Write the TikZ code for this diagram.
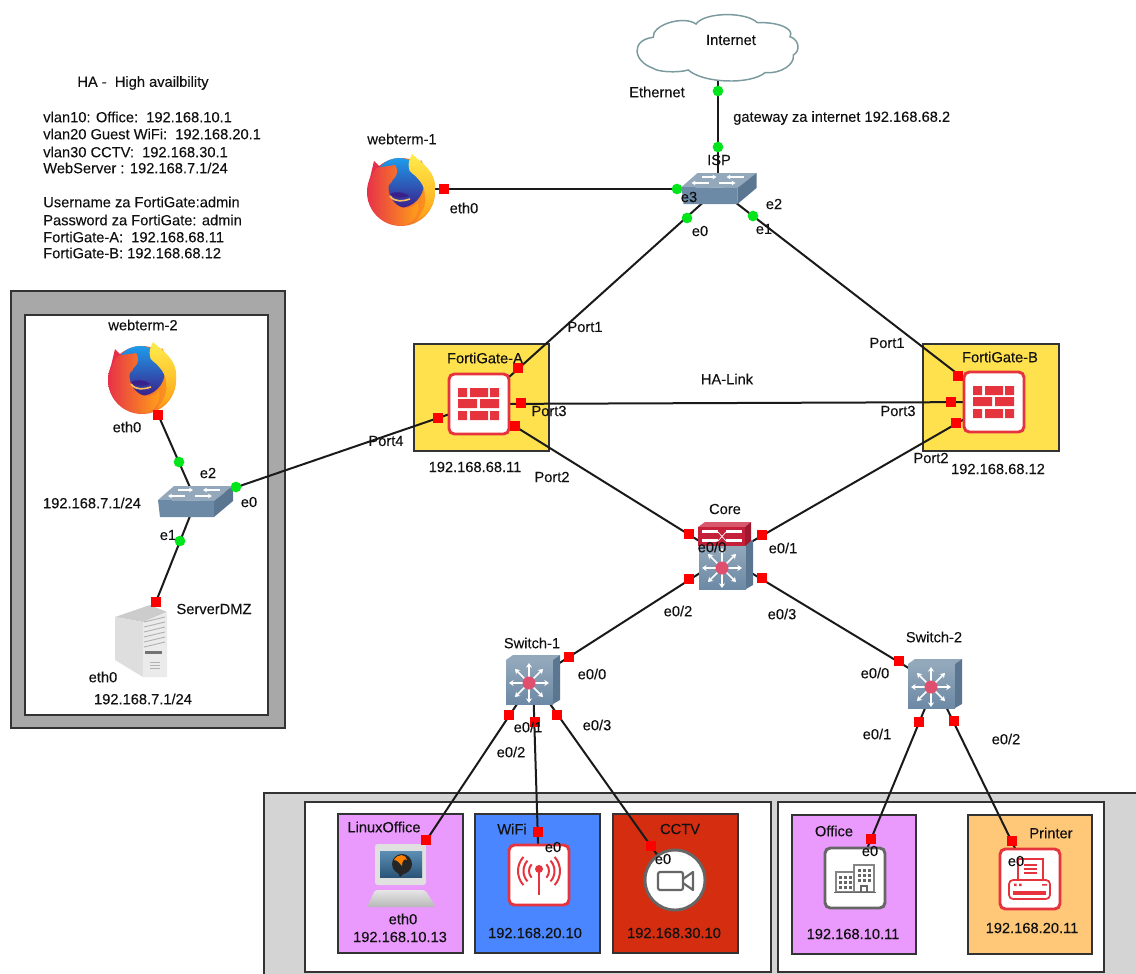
\documentclass[tikz,border=0pt]{standalone}
\usepackage{fontspec}
\setmainfont{Liberation Sans}
\newfontfamily\lblfont{Liberation Sans}[FakeBold=0.15]
\usetikzlibrary{arrows.meta}
\definecolor{frame}{HTML}{333333}
\definecolor{wire}{HTML}{1A1A1A}
\definecolor{txt}{HTML}{111111}
\definecolor{redport}{HTML}{FF0000}
\definecolor{greenport}{HTML}{00E61A}
\definecolor{iconred}{HTML}{E5343D}
\definecolor{icongray}{HTML}{666666}
\definecolor{swtop}{HTML}{93A8BB}
\definecolor{swfront}{HTML}{6C89A5}
\definecolor{swside}{HTML}{5A7690}
\definecolor{LOf}{HTML}{E99AFC}
\definecolor{WFi}{HTML}{4A86FF}
\definecolor{CTv}{HTML}{D42D10}
\definecolor{PRt}{HTML}{FFC878}
\definecolor{FGy}{HTML}{FFE04D}
\definecolor{CLd}{HTML}{7A9A9E}
\definecolor{E1}{HTML}{E62E4A}
\definecolor{E2}{HTML}{FFA516}
\definecolor{E3}{HTML}{FF8A1C}
\definecolor{B1}{HTML}{1E9CEB}
\definecolor{B2}{HTML}{3B1F8A}
\definecolor{Y1}{HTML}{FFEE4E}
\definecolor{Y2}{HTML}{FF9F14}
\definecolor{HTML3}{HTML}{E0506E}
\definecolor{RT}{HTML}{D9576A}
\definecolor{RF}{HTML}{C4203A}
\definecolor{RS}{HTML}{A01830}
\definecolor{LB1}{HTML}{5C8FB5}
\definecolor{LB2}{HTML}{2B5478}
\tikzset{
  frameline/.style={draw=frame,line width=1.4pt},
  wirelink/.style={draw=wire,line width=1.5pt},
  lbl/.style={text=txt,inner sep=0pt,font=\lblfont\fontsize{11}{13}\selectfont},
  redp/.style={fill=redport,minimum size=8.2pt,inner sep=0pt,rectangle},
  grnp/.style={fill=greenport,minimum size=8pt,inner sep=0pt,circle},
  dev/.style={inner sep=0pt,minimum width=#1*0.75pt,minimum height=#1*0.75pt},
  pics/firefox/.style={code={
    \shade[left color=E1,right color=E2] (0,2) circle[radius=34];
    \fill[E1] (-27,-29) -- (-18,-20) -- (-32,-8) -- cycle;
    \fill[E3] (20,-30) -- (28,-16) -- (14,-20) -- cycle;
    \shade[top color=B1,bottom color=B2] (-2,-7) circle[radius=25];
    \shade[left color=E1,right color=E3!80!yellow] (-24,-22) .. controls (-16,-24) and (-10,-24) .. (-6,-25)
       .. controls (-3,-21) and (-4,-17) .. (-5,-14) .. controls (-7,-11) and (-10,-9) .. (-9,-8)
       .. controls (-13,-6) and (-13,-2) .. (-12,2) .. controls (-11,10) and (-3,18) .. (5,18)
       .. controls (10,18) and (14,16) .. (17,12) .. controls (19,22) and (14,32) .. (4,35)
       .. controls (-14,38) and (-36,22) .. (-33,0) .. controls (-32,-10) and (-28,-18) .. cycle;
    \fill[B2] (-11,4) .. controls (-6,1) and (4,2) .. (8,6) .. controls (4,8) and (-2,8) .. (-8,7) -- cycle;
    \draw[E2!70!white,line width=1.2pt] (-11,6) .. controls (-6,13) and (3,11) .. (9,9);
    \shade[top color=Y1,bottom color=Y2] (11,-36) .. controls (22,-26) and (35,-18) .. (34,-2)
       .. controls (35,12) and (28,24) .. (16,30) .. controls (23,20) and (26,12) .. (24,5)
       .. controls (24,-2) and (20,-8) .. (18,-10) .. controls (14,-16) and (7,-18) .. (8,-22)
       .. controls (7,-26) and (8,-30) .. cycle;
  }},
  pics/lswitch/.style={code={
    \fill[swtop] (-38,-1) -- (-22,-15) -- (37,-15) -- (18,0) -- cycle;
    \fill[swfront] (-38,-1) -- (18,0) -- (18,16) -- (-36,16) -- cycle;
    \fill[swside] (18,0) -- (37,-15) -- (37,0) -- (18,16) -- cycle;
    \draw[white,line width=1pt,-{Stealth[length=3pt,width=3.5pt]}] (-18,-11) -- (-3,-11);
    \draw[white,line width=1pt,-{Stealth[length=3pt,width=3.5pt]}] (24,-11) -- (7,-11);
    \draw[white,line width=1pt,-{Stealth[length=3pt,width=3.5pt]}] (-11,-5) -- (-28,-5);
    \draw[white,line width=1pt,-{Stealth[length=3pt,width=3.5pt]}] (-1,-5) -- (16,-5);
  }},
  pics/lthree/.style={code={
    \fill[swtop] (-27,-20) -- (-20,-25) -- (27,-25) -- (20,-20) -- cycle;
    \shade[top color=swtop,bottom color=swfront] (-27,-20) rectangle (20,24);
    \fill[swside] (20,-20) -- (27,-25) -- (27,20) -- (20,24) -- cycle;
    \foreach \bx/\by in {20/0,14/14,0/20,-14/14,-20/0,-14/-14,0/-20,14/-14}{
      \draw[white,line width=1.3pt,-{Stealth[length=3.5pt,width=4.5pt]}] (-4,3) -- ++(\bx,\by);}
    \fill[HTML3] (-4,3) circle[radius=6.5];
  }},
  pics/router/.style={code={
    \fill[RT] (-27,-5) -- (-20,-10) -- (26,-10) -- (20,-5) -- cycle;
    \fill[RF] (-27,-5) rectangle (20,14);
    \fill[RS] (20,-5) -- (26,-10) -- (26,9) -- (20,14) -- cycle;
    \fill[white] (-23,-2) rectangle (-7,1); \fill[white] (1,-2) rectangle (17,1);
    \fill[white] (-23,7) rectangle (-7,10); \fill[white] (1,7) rectangle (17,10);
    \draw[white,line width=.5pt] (-7,0) -- (1,9) (-7,9) -- (1,0);
  }},
  pics/firewall/.style={code={
    \draw[iconred,fill=white,line width=2.2pt,rounded corners=4pt] (-30,-30) rectangle (30,30);
    \fill[iconred] (-21,-16) rectangle (-12,-7) (-9,-16) rectangle (9,-7) (11,-16) rectangle (20,-7)
      (-21,-5) rectangle (-2,4) (1,-5) rectangle (20,4)
      (-21,7) rectangle (-12,16) (-9,7) rectangle (9,16) (11,7) rectangle (20,16);
  }},
  pics/wifi/.style={code={
    \draw[iconred,fill=white,line width=2.2pt,rounded corners=4pt] (-30,-30) rectangle (30,30);
    \draw[iconred,line width=1.7pt] (0,-4) -- (0,20);
    \fill[iconred] (0,-6) circle[radius=4];
    \foreach \r in {10,15.5,21}{
      \draw[iconred,line width=1.5pt] (0,-4) ++(-42:\r) arc[start angle=-42,end angle=42,radius=\r];
      \draw[iconred,line width=1.5pt] (0,-4) ++(138:\r) arc[start angle=138,end angle=222,radius=\r];}
  }},
  pics/camera/.style={code={
    \draw[icongray,fill=white,line width=2.2pt] (0,0) circle[radius=30];
    \draw[icongray,line width=1.6pt,rounded corners=1.5pt] (-17,-8) rectangle (8,10);
    \draw[icongray,line width=1.6pt,line join=round] (8,-1) -- (18,-8) -- (18,10) -- (8,3);
  }},
  pics/building/.style={code={
    \draw[icongray,fill=white,line width=2.2pt,rounded corners=4pt] (-30,-30) rectangle (30,30);
    \draw[icongray!80,fill=white,line width=.8pt] (-19,-6) rectangle (-1,14);
    \draw[icongray!80,fill=white,line width=.8pt] (-1,-13) rectangle (19,14);
    \foreach \x in {-16,-11,-6}{\foreach \y in {-2,3,8}{\fill[icongray] (\x,\y) rectangle ++(2.6,2.6);}}
    \foreach \x in {3,8,13}{\foreach \y in {-9,-4,1}{\fill[icongray] (\x,\y) rectangle ++(2.6,2.6);}}
    \draw[icongray,line width=1pt] (6,14) -- (6,8) -- (12,8) -- (12,14);
    \draw[icongray,line width=1.1pt] (-21,14.5) -- (21,14.5);
  }},
  pics/printericon/.style={code={
    \draw[iconred,fill=white,line width=2.2pt,rounded corners=4pt] (-30,-30) rectangle (30,30);
    \draw[iconred,line width=1.3pt] (-12,0) -- (-12,-20) -- (13,-20) -- (13,0);
    \foreach \y in {-14,-10,-6}{\draw[iconred,line width=.9pt] (-6,\y) -- (7,\y);}
    \draw[iconred,line width=1.3pt,rounded corners=3pt] (-21,1) rectangle (20,20);
    \fill[iconred] (-16,4.5) rectangle (-13.5,7) (-11,4.5) rectangle (-8.5,7) (12,5) rectangle (17,6.5);
    \fill[iconred] (-17,12) rectangle (16,16);
  }},
  pics/laptop/.style={code={
    \fill[black!12,rounded corners=2pt] (-25,-36) rectangle (26,5);
    \shade[top color=LB1,bottom color=LB2] (-20,-29) rectangle (22,-3);
    \fill[black!85] (2,-16) circle[radius=10];
    \fill[black!85] (-3,-9) -- (0,-3) -- (6,-8) -- cycle;
    \fill[orange] (-6,-20) .. controls (-2,-27) and (6,-26) .. (7,-20) .. controls (4,-22) and (2,-19) .. (2,-14) .. controls (0,-16) and (-2,-20) .. cycle;
    \shade[top color=black!10,bottom color=black!28,rounded corners=2pt] (-25,10) -- (25,10) -- (36,27) -- (-33,27) -- cycle;
  }},
  pics/serverbox/.style={code={
    \fill[black!20] (-25,-25) -- (10,-37) -- (27,-30) -- (3,-20) -- cycle;
    \fill[black!13] (-25,-25) -- (3,-20) -- (3,35) -- (-25,18) -- cycle;
    \fill[black!8] (3,-20) -- (27,-30) -- (27,35) -- (3,35) -- cycle;
    \foreach \y in {-20,-15,-10,-5,0,5}{\draw[black!30,line width=.7pt] (4,\y) -- (25,\y-5);}
    \fill[black!55] (5,12) rectangle (22,9);
    \foreach \y in {20,23,26}{\draw[black!30,line width=.5pt] (10,\y) -- (20,\y);}
  }},
}
\begin{document}
\begin{tikzpicture}[x=0.75pt,y=-0.75pt]
\useasboundingbox (0,0) rectangle (1136,974);
% containers
\draw[frameline,fill=black!34] (11,291) rectangle (285,728);
\draw[frameline,fill=white] (25,315) rectangle (268,715);
\fill[black!17] (264,793) rectangle (1136,974);
\draw[frameline] (264,974) -- (264,793) -- (1136,793);
\draw[frameline,fill=white] (305,802) rectangle (771,972);
\draw[frameline,fill=white] (778,802) rectangle (1104,972);
\draw[frameline,fill=LOf] (338,814) rectangle (463,953);
\draw[frameline,fill=WFi] (475,814) rectangle (600,953);
\draw[frameline,fill=CTv] (613,814) rectangle (738,953);
\draw[frameline,fill=LOf] (792,815) rectangle (916,954);
\draw[frameline,fill=PRt] (968,815) rectangle (1092,954);
\draw[frameline,fill=FGy] (414,344) rectangle (549,451);
\draw[frameline,fill=FGy] (923,344) rectangle (1059,451);
% device anchors
\node[dev=40] (internet) at (718,47) {};
\node[dev=24] (isp) at (718,189) {};
\node[dev=50,circle] (webone) at (402,189) {};
\node[dev=50,circle] (webtwo) at (142,378) {};
\node[dev=24] (dmzsw) at (196,501) {};
\node[dev=50] (server) at (140,642) {};
\node[dev=50] (fga) at (479,404) {};
\node[dev=50] (fgb) at (994,402) {};
\node[dev=30] (core) at (725,557) {};
\node[dev=30] (swone) at (533,680) {};
\node[dev=30] (swtwo) at (935,684) {};
\node[dev=40] (linux) at (400,880) {};
\node[dev=50] (wifi) at (539,875) {};
\node[dev=50,circle] (cctv) at (675,880) {};
\node[dev=50] (office) at (855,878) {};
\node[dev=50] (printer) at (1030,879) {};
% connectors
\draw[wirelink] (internet) -- (isp);
\draw[wirelink] (webone) -- (isp);
\draw[wirelink] (isp) -- (fga);
\draw[wirelink] (isp) -- (fgb);
\draw[wirelink] (fga) -- (fgb);
\draw[wirelink] (fga) -- (core);
\draw[wirelink] (fgb) -- (core);
\draw[wirelink] (dmzsw) -- (fga);
\draw[wirelink] (webtwo) -- (dmzsw);
\draw[wirelink] (dmzsw) -- (server);
\draw[wirelink] (core) -- (swone);
\draw[wirelink] (core) -- (swtwo);
\draw[wirelink] (swone) -- (linux);
\draw[wirelink] (swone) -- (wifi);
\draw[wirelink] (swone) -- (cctv);
\draw[wirelink] (swtwo) -- (office);
\draw[wirelink] (swtwo) -- (printer);
% cloud
\draw[CLd,line width=1.1pt,fill=white] (653.3,37.3) .. controls (651.7,25) and (683.3,15) .. (696,24)
  .. controls (705,11.7) and (746.7,11.7) .. (757.3,22.7)
  .. controls (776.7,21.7) and (795,28.3) .. (790,36.7)
  .. controls (800,40) and (800,51.7) .. (793.3,55)
  .. controls (795,65) and (780,74) .. (765,72.7)
  .. controls (750,85) and (703,83.3) .. (688.3,70)
  .. controls (676.7,73.3) and (656.7,71.7) .. (653.3,68.3)
  .. controls (633.3,61.7) and (630,40) .. cycle;
% icons
\pic at (401,190) {firefox};
\pic at (webtwo.center) {firefox};
\pic at (719.5,188) {lswitch};
\pic at (196,501) {lswitch};
\pic at (server.center) {serverbox};
\pic at (fga.center) {firewall};
\pic at (fgb.center) {firewall};
\pic at (726,565) {lthree};
\pic at (725,532) {router};
\pic at (swone.center) {lthree};
\pic at (swtwo.center) {lthree};
\pic at (linux.center) {laptop};
\pic at (wifi.center) {wifi};
\pic at (cctv.center) {camera};
\pic at (office.center) {building};
\pic at (printer.center) {printericon};
% ports
\node[grnp] (g1) at (718,91) {};
\node[grnp] (g2) at (718,147) {};
\node[grnp] (g3) at (677,189) {};
\node[grnp] (g4) at (687,218) {};
\node[grnp] (g5) at (753,216) {};
\node[grnp] (g6) at (179,462) {};
\node[grnp] (g7) at (236,487) {};
\node[grnp] (g8) at (180,541) {};
\node[redp] (r1) at (444,189) {};
\node[redp] (r2) at (158,415) {};
\node[redp] (r3) at (156,602) {};
\node[redp] (r4) at (518,368) {};
\node[redp] (r5) at (521,403) {};
\node[redp] (r6) at (515,426) {};
\node[redp] (r7) at (438,418) {};
\node[redp] (r8) at (958,376) {};
\node[redp] (r9) at (951,402) {};
\node[redp] (r10) at (956,423) {};
\node[redp] (r11) at (689,534) {};
\node[redp] (r12) at (762,535) {};
\node[redp] (r13) at (689,579) {};
\node[redp] (r14) at (762,578) {};
\node[redp] (r15) at (569,657) {};
\node[redp] (r16) at (509,715) {};
\node[redp] (r17) at (535,722) {};
\node[redp] (r18) at (557,715) {};
\node[redp] (r19) at (899,661) {};
\node[redp] (r20) at (919,722) {};
\node[redp] (r21) at (954,721) {};
\node[redp] (r22) at (426,840) {};
\node[redp] (r23) at (538,832) {};
\node[redp] (r24) at (651,846) {};
\node[redp] (r25) at (871,839) {};
\node[redp] (r26) at (1012,841) {};
% notes
\node[lbl] (n0) at (143,83) {HA -\ \ High availbility};
\node[lbl,anchor=west] (n1) at (43,117) {vlan10: Office:\ \ 192.168.10.1};
\node[lbl,anchor=west] (n2) at (43,134) {vlan20 Guest WiFi:\ \ 192.168.20.1};
\node[lbl,anchor=west] (n3) at (43,152) {vlan30 CCTV:\ \ 192.168.30.1};
\node[lbl,anchor=west] (n4) at (43,168) {WebServer : 192.168.7.1/24};
\node[lbl,anchor=west] (n5) at (43,202) {Username za FortiGate:admin};
\node[lbl,anchor=west] (n6) at (43,220) {Password za FortiGate: admin};
\node[lbl,anchor=west] (n7) at (43,237) {FortiGate-A:\ \ 192.168.68.11};
\node[lbl,anchor=west] (n8) at (43,253) {FortiGate-B: 192.168.68.12};
% labels
\node[lbl] (t1) at (731,40) {Internet};
\node[lbl] (t2) at (657,92) {Ethernet};
\node[lbl,anchor=west] (t3) at (733,118) {gateway za internet 192.168.68.2};
\node[lbl] (t4) at (402,139) {webterm-1};
\node[lbl] (t5) at (464,208) {eth0};
\node[lbl] (t6) at (719,160) {ISP};
\node[lbl] (t7) at (689,197) {e3};
\node[lbl] (t8) at (774,204) {e2};
\node[lbl] (t9) at (700,231) {e0};
\node[lbl] (t10) at (764,229) {e1};
\node[lbl] (t11) at (585,327) {Port1};
\node[lbl] (t12) at (887,343) {Port1};
\node[lbl] (t13) at (549,411) {Port3};
\node[lbl] (t14) at (898,411) {Port3};
\node[lbl] (t15) at (552,477) {Port2};
\node[lbl] (t16) at (931,458) {Port2};
\node[lbl] (t17) at (386,441) {Port4};
\node[lbl] (t18) at (485,358) {FortiGate-A};
\node[lbl] (t19) at (1000,357) {FortiGate-B};
\node[lbl] (t20) at (727,379) {HA-Link};
\node[lbl] (t21) at (475,467) {192.168.68.11};
\node[lbl] (t22) at (998,469) {192.168.68.12};
\node[lbl] (t23) at (725,509) {Core};
\node[lbl] (t24) at (712,547) {e0/0};
\node[lbl] (t25) at (783,548) {e0/1};
\node[lbl] (t26) at (678,611) {e0/2};
\node[lbl] (t27) at (782,614) {e0/3};
\node[lbl] (t28) at (532,643) {Switch-1};
\node[lbl] (t29) at (934,637) {Switch-2};
\node[lbl] (t30) at (592,674) {e0/0};
\node[lbl] (t31) at (528,727) {e0/1};
\node[lbl] (t32) at (511,752) {e0/2};
\node[lbl] (t33) at (597,725) {e0/3};
\node[lbl] (t34) at (875,673) {e0/0};
\node[lbl] (t35) at (877,734) {e0/1};
\node[lbl] (t36) at (1006,739) {e0/2};
\node[lbl] (t37) at (384,827) {LinuxOffice};
\node[lbl] (t38) at (512,829) {WiFi};
\node[lbl] (t39) at (553,847) {e0};
\node[lbl] (t40) at (680,829) {CCTV};
\node[lbl] (t41) at (663,859) {e0};
\node[lbl] (t42) at (403,919) {eth0};
\node[lbl] (t43) at (400,937) {192.168.10.13};
\node[lbl] (t44) at (535,933) {192.168.20.10};
\node[lbl] (t45) at (674,933) {192.168.30.10};
\node[lbl] (t46) at (834,831) {Office};
\node[lbl] (t47) at (870,851) {e0};
\node[lbl] (t48) at (853,934) {192.168.10.11};
\node[lbl] (t49) at (1051,833) {Printer};
\node[lbl] (t50) at (1016,861) {e0};
\node[lbl] (t51) at (1032,928) {192.168.20.11};
\node[lbl] (t52) at (143,325) {webterm-2};
\node[lbl] (t53) at (127,427) {eth0};
\node[lbl] (t54) at (208,473) {e2};
\node[lbl] (t55) at (249,502) {e0};
\node[lbl] (t56) at (92,503) {192.168.7.1/24};
\node[lbl] (t57) at (168,535) {e1};
\node[lbl] (t58) at (214,609) {ServerDMZ};
\node[lbl] (t59) at (103,677) {eth0};
\node[lbl] (t60) at (143,699) {192.168.7.1/24};
\end{tikzpicture}
\end{document}
